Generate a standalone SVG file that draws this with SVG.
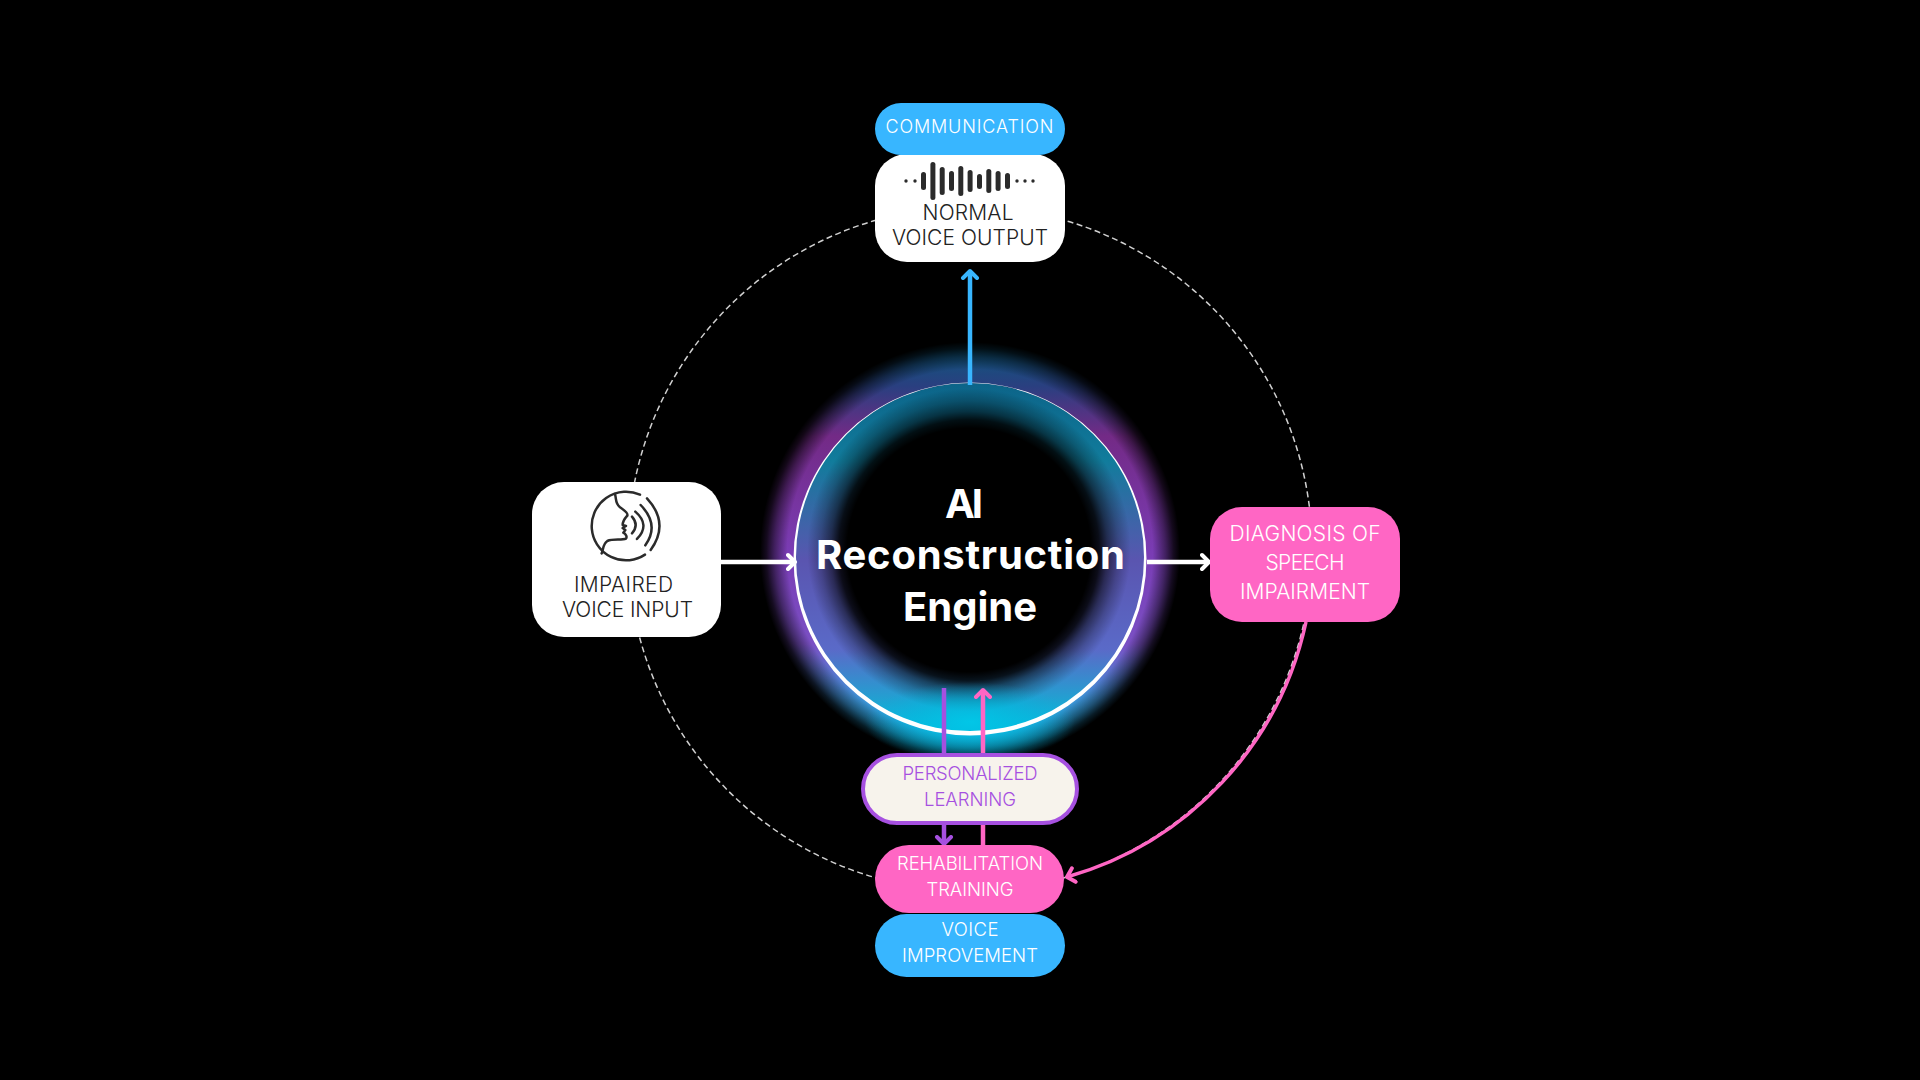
<svg xmlns="http://www.w3.org/2000/svg" width="1920" height="1080" viewBox="0 0 1920 1080">
<style>
text{font-family:"Inter","Liberation Sans",sans-serif;font-weight:350;text-anchor:middle}
.w{fill:#fff}.d{fill:#222}.p{fill:#a650e0}
.s{font-size:18.500px}.m{font-size:21px}.xs{font-size:18px}
text.t{font-size:40px;font-weight:700;fill:#fff}
.ln{fill:none;stroke-width:4.500}
.ic{fill:none;stroke:#2b2b2b;stroke-width:7.500;stroke-linecap:round;stroke-linejoin:round}
</style>
<defs>
<linearGradient id="outerC" gradientUnits="userSpaceOnUse" x1="0" y1="345" x2="0" y2="760">
<stop offset="0" stop-color="#0a5a7c"/><stop offset=".1" stop-color="#2a3f80"/><stop offset=".22" stop-color="#732a86"/><stop offset=".5" stop-color="#7a3cb4"/><stop offset=".72" stop-color="#7a50c4"/><stop offset=".85" stop-color="#3f90d4"/><stop offset="1" stop-color="#08bcdf"/>
</linearGradient>
<linearGradient id="innerC" gradientUnits="userSpaceOnUse" x1="0" y1="383" x2="0" y2="738">
<stop offset="0" stop-color="#0c6489"/><stop offset=".22" stop-color="#117c9c"/><stop offset=".5" stop-color="#5a55b0"/><stop offset=".75" stop-color="#5a6ac8"/><stop offset=".9" stop-color="#1ea4d2"/><stop offset="1" stop-color="#00c6e6"/>
</linearGradient>
<radialGradient id="outerA" gradientUnits="userSpaceOnUse" cx="970" cy="552" r="210">
<stop offset=".78" stop-color="#fff"/><stop offset=".87" stop-color="#fff"/><stop offset=".93" stop-color="#8a8a8a"/><stop offset=".97" stop-color="#2c2c2c"/><stop offset="1" stop-color="#000"/>
</radialGradient>
<radialGradient id="innerA" gradientUnits="userSpaceOnUse" cx="969" cy="550" r="210">
<stop offset=".58" stop-color="#000"/><stop offset=".62" stop-color="#222"/><stop offset=".66" stop-color="#777"/><stop offset=".71" stop-color="#c0c0c0"/><stop offset=".77" stop-color="#fff"/><stop offset="1" stop-color="#fff"/>
</radialGradient>
<radialGradient id="cy">
<stop offset="0" stop-color="#00c8e8" stop-opacity=".9"/><stop offset=".5" stop-color="#00bce0" stop-opacity=".55"/><stop offset="1" stop-color="#00b0e0" stop-opacity="0"/>
</radialGradient>
<filter id="soft" x="-5%" y="-5%" width="110%" height="110%"><feGaussianBlur stdDeviation=".5"/></filter>
<mask id="mOuter" maskUnits="userSpaceOnUse" x="740" y="320" width="460" height="460"><circle cx="970" cy="552" r="210" fill="url(#outerA)"/></mask>
<mask id="mInner" maskUnits="userSpaceOnUse" x="740" y="320" width="460" height="460"><circle cx="970" cy="559" r="176" fill="url(#innerA)"/></mask>
<marker id="aw" markerUnits="userSpaceOnUse" markerWidth="16" markerHeight="20" refX="9" refY="10" orient="auto"><path d="M2 3L9 10L2 17" fill="none" stroke="#fff" stroke-width="4" stroke-linecap="round" stroke-linejoin="round"/></marker>
<marker id="ab" markerUnits="userSpaceOnUse" markerWidth="16" markerHeight="20" refX="9" refY="10" orient="auto"><path d="M2 3L9 10L2 17" fill="none" stroke="#38b6ff" stroke-width="4" stroke-linecap="round" stroke-linejoin="round"/></marker>
<marker id="ap" markerUnits="userSpaceOnUse" markerWidth="16" markerHeight="20" refX="9" refY="10" orient="auto"><path d="M2 3L9 10L2 17" fill="none" stroke="#ff66c4" stroke-width="4" stroke-linecap="round" stroke-linejoin="round"/></marker>
<marker id="au" markerUnits="userSpaceOnUse" markerWidth="16" markerHeight="20" refX="9" refY="10" orient="auto"><path d="M2 3L9 10L2 17" fill="none" stroke="#a650e0" stroke-width="4" stroke-linecap="round" stroke-linejoin="round"/></marker>
</defs>
<rect width="1920" height="1080" fill="#000"/>
<circle cx="970" cy="549" r="342" fill="none" stroke="#d0d0d0" stroke-width="1.500" stroke-dasharray="6 3.500"/>
<g id="engine">
<rect x="740" y="320" width="460" height="460" fill="url(#outerC)" mask="url(#mOuter)"/>
<circle cx="970" cy="559" r="175.500" fill="#000"/>
<rect x="740" y="320" width="460" height="460" fill="url(#innerC)" mask="url(#mInner)"/>
<ellipse cx="970" cy="722" rx="105" ry="40" fill="url(#cy)"/>
<path d="M793.500 559a176.500 176.500 0 1 0 353 0a176.500 176.500 0 1 0 -353 0ZM796 557a174 174 0 1 0 348 0a174 174 0 1 0 -348 0Z" fill="#fff" fill-rule="evenodd" filter="url(#soft)"/>
<text class="t" x="964" y="518" textLength="38">AI</text>
<text class="t" x="970.500" y="569" textLength="309">Reconstruction</text>
<text class="t" x="970" y="621" textLength="134">Engine</text>
</g>
<g id="connectors">
<line class="ln" x1="970" y1="385" x2="970" y2="271" stroke="#38b6ff" marker-end="url(#ab)"/>
<line class="ln" x1="721" y1="562" x2="795" y2="562" stroke="#fff" marker-end="url(#aw)"/>
<line class="ln" x1="1147" y1="562" x2="1209" y2="562" stroke="#fff" marker-end="url(#aw)"/>
<line class="ln" x1="944" y1="688" x2="944" y2="844" stroke="#a650e0" marker-end="url(#au)"/>
<line class="ln" x1="983" y1="846" x2="983" y2="690" stroke="#ff66c4" marker-end="url(#ap)"/>
<path d="M1306 622A339 339 0 0 1 1067 877" fill="none" stroke-width="3.500" stroke="#ff66c4" marker-end="url(#ap)"/>
</g>
<g id="normal-output">
<rect x="875" y="154" width="190" height="108" rx="32" fill="#fff"/>
<g fill="#2b2b2b">
<circle cx="906" cy="181" r="1.700"/><circle cx="915" cy="181" r="1.700"/>
<rect x="921" y="172" width="5" height="18" rx="2.500"/><rect x="930.400" y="162" width="5" height="38" rx="2.500"/><rect x="939.700" y="167" width="5" height="28" rx="2.500"/><rect x="949" y="171" width="5" height="20" rx="2.500"/><rect x="958.300" y="166" width="5" height="30" rx="2.500"/><rect x="967.600" y="170" width="5" height="22" rx="2.500"/><rect x="977" y="174" width="5" height="15" rx="2.500"/><rect x="986.300" y="169" width="5" height="24" rx="2.500"/><rect x="995.600" y="171" width="5" height="20" rx="2.500"/><rect x="1005" y="173" width="5" height="16" rx="2.500"/>
<circle cx="1017" cy="181" r="1.700"/><circle cx="1025" cy="181" r="1.700"/><circle cx="1033" cy="181" r="1.700"/>
</g>
<text class="m d" x="968" y="220" textLength="91">NORMAL</text>
<text class="m d" x="970" y="245" textLength="156">VOICE OUTPUT</text>
</g>
<g id="communication">
<rect x="875" y="103" width="190" height="52" rx="26" fill="#38b6ff"/>
<text class="xs w" x="969.500" y="133" textLength="168">COMMUNICATION</text>
</g>
<g id="impaired-input">
<rect x="532" y="482" width="189" height="155" rx="32" fill="#fff"/>
<g transform="translate(520 470) scale(.3333)">
<path class="ic" d="M360 74A103 103 0 1 0 375 254"/>
<path class="ic" d="M285 72C290 90 285 100 300 112C315 122 325 130 322 137C315 145 308 152 308 165L318 168L308 174L316 180L310 188C318 192 322 200 318 206C305 212 280 205 262 213C248 222 250 240 245 250"/>
<path class="ic" d="M336 140Q358 165 336 190M346 125Q392 165 351 207M362 105Q420 165 376 226M381 85Q450 160 392 240"/>
</g>
<text class="m d" x="623.500" y="592" textLength="99">IMPAIRED</text>
<text class="m d" x="627.500" y="617" textLength="131">VOICE INPUT</text>
</g>
<g id="diagnosis">
<rect x="1210" y="507" width="190" height="115" rx="32" fill="#ff66c4"/>
<text class="m w" x="1305" y="541" textLength="151">DIAGNOSIS OF</text>
<text class="m w" x="1305" y="570" textLength="79">SPEECH</text>
<text class="m w" x="1305" y="599" textLength="130">IMPAIRMENT</text>
</g>
<g id="personalized">
<rect x="863" y="755" width="214" height="68" rx="34" fill="#f7f3ec" stroke="#a650e0" stroke-width="4"/>
<text class="s p" x="970" y="780" textLength="135">PERSONALIZED</text>
<text class="s p" x="970" y="806" textLength="92">LEARNING</text>
</g>
<g id="rehabilitation">
<rect x="875" y="845" width="189" height="68" rx="34" fill="#ff66c4"/>
<text class="s w" x="970" y="870" textLength="146">REHABILITATION</text>
<text class="s w" x="970" y="896" textLength="87">TRAINING</text>
</g>
<g id="voice-improvement">
<rect x="875" y="914" width="190" height="63" rx="31.500" fill="#38b6ff"/>
<text class="s w" x="970" y="936" textLength="57">VOICE</text>
<text class="s w" x="970" y="962" textLength="136">IMPROVEMENT</text>
</g>
</svg>
